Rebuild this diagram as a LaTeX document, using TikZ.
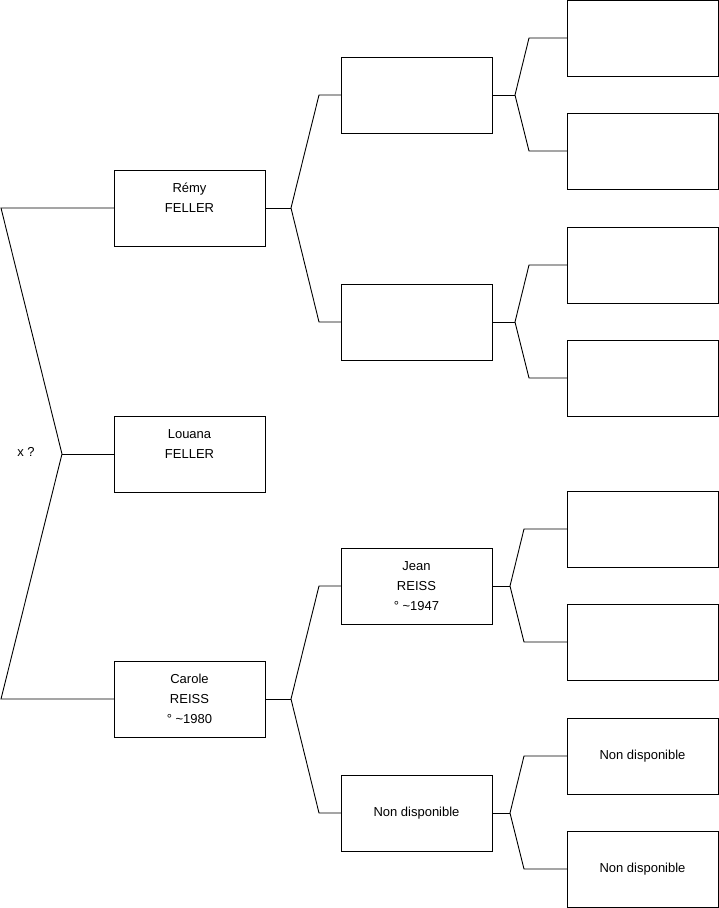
\documentclass[tikz,border=0pt]{standalone}
\usepackage{fontspec}
\setmainfont{Liberation Sans}
\begin{document}
\begin{tikzpicture}[x=1pt,y=-1pt,
  person/.style={draw=black, line width=0.9pt, rectangle, minimum width=151pt, minimum height=76pt,
    inner sep=0pt, outer sep=0pt, align=center, font=\fontsize{13}{20}\selectfont},
  link/.style={draw=black, line width=0.9pt, line join=miter}]
\useasboundingbox (0,0) rectangle (719,908);
% generation 1
\node[person] (remy)   at (189.5,208) {Rémy\\FELLER\\\mbox{}};
\node[person] (louana) at (189.5,454) {Louana\\FELLER\\\mbox{}};
\node[person] (carole) at (189.5,699) {Carole\\REISS\\° \textasciitilde1980};
% generation 2
\node[person] (b1)   at (416.5,95)  {};
\node[person] (b2)   at (416.5,322) {};
\node[person] (jean) at (416.5,586) {Jean\\REISS\\° \textasciitilde1947};
\node[person] (nd)   at (416.5,813) {Non disponible};
% generation 3
\node[person] (c1) at (642.5,38)  {};
\node[person] (c2) at (642.5,151) {};
\node[person] (c3) at (642.5,265) {};
\node[person] (c4) at (642.5,378) {};
\node[person] (c5) at (642.5,529) {};
\node[person] (c6) at (642.5,642) {};
\node[person] (c7) at (642.5,756) {Non disponible};
\node[person] (c8) at (642.5,869) {Non disponible};
% label
\node[font=\fontsize{13}{16}\selectfont, inner sep=0pt] (xq) at (26,452) {x ?};
% left bracket
\coordinate (lt) at (1,208);
\coordinate (lj) at (62,454);
\coordinate (lb) at (1,699);
\draw[link] (remy.west) -- (lt) -- (lj) -- (lb) -- (carole.west);
\draw[link] (lj) -- (louana.west);
% forks generation 1 -> 2
\coordinate (rj) at (291,208);
\coordinate (rt) at (319,95);
\coordinate (rb) at (319,322);
\draw[link] (remy.east) -- (rj);
\draw[link] (b1.west) -- (rt) -- (rj) -- (rb) -- (b2.west);
\coordinate (cj) at (291,699);
\coordinate (ct) at (319,586);
\coordinate (cb) at (319,813);
\draw[link] (carole.east) -- (cj);
\draw[link] (jean.west) -- (ct) -- (cj) -- (cb) -- (nd.west);
% forks generation 2 -> 3
\coordinate (aj) at (515,95);
\coordinate (at1) at (529,38);
\coordinate (ab1) at (529,151);
\draw[link] (b1.east) -- (aj);
\draw[link] (c1.west) -- (at1) -- (aj) -- (ab1) -- (c2.west);
\coordinate (bj) at (515,322);
\coordinate (bt) at (529,265);
\coordinate (bb) at (529,378);
\draw[link] (b2.east) -- (bj);
\draw[link] (c3.west) -- (bt) -- (bj) -- (bb) -- (c4.west);
\coordinate (jj) at (510,586);
\coordinate (jt) at (524,529);
\coordinate (jb) at (524,642);
\draw[link] (jean.east) -- (jj);
\draw[link] (c5.west) -- (jt) -- (jj) -- (jb) -- (c6.west);
\coordinate (nj) at (510,813);
\coordinate (nt) at (524,756);
\coordinate (nb) at (524,869);
\draw[link] (nd.east) -- (nj);
\draw[link] (c7.west) -- (nt) -- (nj) -- (nb) -- (c8.west);
\end{tikzpicture}
\end{document}
